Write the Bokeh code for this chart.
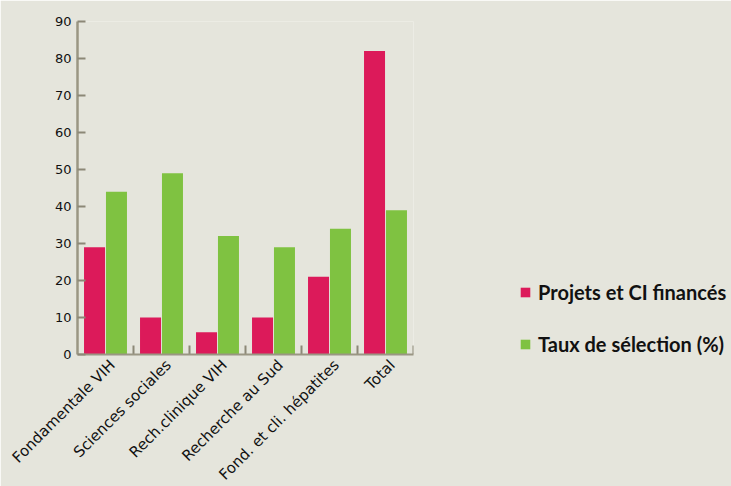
import math
from bokeh.plotting import figure
from bokeh.models import ColumnDataSource, Legend, LegendItem, FixedTicker, Range1d
from bokeh.transform import dodge
from bokeh.embed import file_html
from bokeh.resources import INLINE

# ---- data ----
categories = ["Fondamentale VIH", "Sciences sociales", "Rech.clinique VIH",
              "Recherche au Sud", "Fond. et cli. hépatites", "Total"]
projets = [29, 10, 6, 10, 21, 82]
taux = [44, 49, 32, 29, 34, 39]
series_names = ["Projets et CI financés", "Taux de sélection (%)"]
y_ticks = [0, 10, 20, 30, 40, 50, 60, 70, 80, 90]

BG = "#E5E5DC"
RED = "#DC1A5A"
GREEN = "#7FC241"
AXIS = "#9A9683"
TICK = "#8C8877"

FRAME_W = 336
FRAME_H = 333
Y_MAX = 90
n = len(categories)
tick_len_units = 9 * Y_MAX / FRAME_H
label_shift = 7 / (FRAME_W / n)   # labels sit slightly right of the slot centre

pos = [i + 0.5 for i in range(n)]          # slot centres
src = ColumnDataSource(dict(cat=categories, pos=pos, projets=projets, taux=taux,
                            bnd=[i + 1 for i in range(n)],
                            y0=[0] * n, y1=[tick_len_units] * n))

p = figure(x_range=Range1d(0, n), y_range=Range1d(0, Y_MAX),
           frame_width=FRAME_W, frame_height=FRAME_H,
           min_border_left=77, min_border_top=21, min_border_right=318,
           min_border_bottom=132,
           output_backend="svg", toolbar_location=None)
p.background_fill_color = BG
p.border_fill_color = BG
p.outline_line_color = None
p.grid.visible = False

r1 = p.vbar(x=dodge('pos', -0.196), top='projets', width=0.375,
            source=src, fill_color=RED, line_color=None)
r2 = p.vbar(x=dodge('pos', 0.196), top='taux', width=0.375,
            source=src, fill_color=GREEN, line_color=None)

# slot boundary ticks on the x axis
p.segment(x0='bnd', x1='bnd', y0='y0', y1='y1', source=src,
          line_color=TICK, line_width=2)

label_pos = [x + label_shift for x in pos]
xa = p.xaxis[0]
xa.ticker = FixedTicker(ticks=label_pos)
xa.major_label_overrides = {lp: c for lp, c in zip(label_pos, categories)}
xa.axis_line_color = AXIS
xa.axis_line_width = 2
xa.major_tick_in = 0
xa.major_tick_out = 0
xa.minor_tick_line_color = None
xa.major_label_orientation = math.pi / 4
xa.major_label_text_font = "DejaVu Sans"
xa.major_label_text_font_size = "15px"
xa.major_label_text_color = "#111111"
xa.major_label_standoff = 8

ya = p.yaxis[0]
ya.ticker = FixedTicker(ticks=y_ticks)
ya.axis_line_color = AXIS
ya.axis_line_width = 2.5
ya.major_tick_in = 8
ya.major_tick_out = 0
ya.major_tick_line_color = TICK
ya.major_tick_line_width = 2
ya.minor_tick_line_color = None
ya.major_label_text_font = "DejaVu Sans"
ya.major_label_text_font_size = "13px"
ya.major_label_text_color = "#111111"
ya.major_label_standoff = 6

legend = Legend(items=[LegendItem(label=series_names[0], renderers=[r1]),
                       LegendItem(label=series_names[1], renderers=[r2])],
                location=(106, -2), orientation="vertical",
                glyph_width=12, glyph_height=12, label_standoff=7,
                spacing=28, padding=0, margin=0, label_height=24,
                border_line_alpha=0, background_fill_alpha=0,
                label_text_font="Lato", label_text_font_style="bold",
                label_text_font_size="20px", label_text_color="#111111")
p.add_layout(legend, 'right')

html = file_html(p, INLINE)
html = html.replace("<body>", '<body style="background:%s">' % BG, 1)
open("out.html", "w").write(html)
